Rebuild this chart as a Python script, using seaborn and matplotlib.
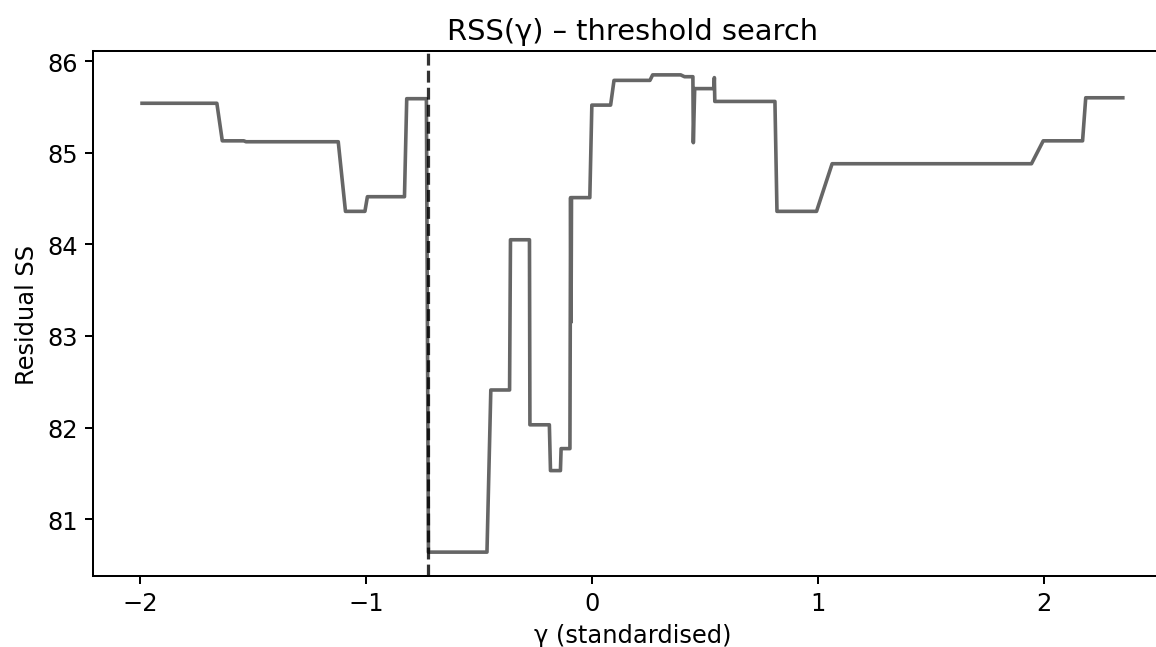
import matplotlib
matplotlib.use("Agg")
import matplotlib.pyplot as plt
import seaborn as sns

# RSS profile over candidate thresholds
gamma = [-1.99, -1.659, -1.635, -1.54, -1.53, -1.122, -1.090, -1.004, -0.993,
         -0.829, -0.819, -0.732, -0.723, -0.464, -0.447, -0.364, -0.360,
         -0.276, -0.274, -0.188, -0.183, -0.139, -0.136, -0.097, -0.094,
         -0.092, -0.090, -0.009, 0.000, 0.083, 0.098, 0.257, 0.269, 0.393,
         0.41, 0.447, 0.449, 0.455, 0.540, 0.542, 0.544, 0.810, 0.819,
         0.994, 1.063, 1.945, 1.997, 2.171, 2.185, 2.349]
rss = [85.54, 85.54, 85.13, 85.13, 85.12, 85.12, 84.36, 84.36, 84.52,
       84.52, 85.59, 85.59, 80.64, 80.64, 82.41, 82.41, 84.05,
       84.05, 82.03, 82.03, 81.53, 81.53, 81.77, 81.77, 84.51,
       83.15, 84.51, 84.51, 85.52, 85.52, 85.79, 85.79, 85.85, 85.85,
       85.83, 85.83, 85.11, 85.70, 85.70, 85.82, 85.56, 85.56, 84.36,
       84.36, 84.88, 84.88, 85.13, 85.13, 85.60, 85.60]
gamma_hat = -0.723

plt.rcParams.update({
    'font.size': 12,
    'axes.titlesize': 14.4,
    'axes.linewidth': 1.0,
    'xtick.major.size': 4.2,
    'ytick.major.size': 4.2,
    'xtick.major.width': 1.0,
    'ytick.major.width': 1.0,
})

fig = plt.figure(figsize=(8, 4.481), dpi=144.6)
ax = fig.add_axes([0.0804, 0.1096, 0.9326, 0.8102])

sns.lineplot(x=gamma, y=rss, color='0.4', lw=1.8, estimator=None, sort=False, ax=ax)
ax.axvline(gamma_hat, ls='--', color='k', alpha=0.8, lw=1.6)

ax.set_title('RSS(γ) – threshold search')
ax.set_xlabel('γ (standardised)')
ax.set_ylabel('Residual SS')

fig.savefig('out.png', dpi=144.6)
